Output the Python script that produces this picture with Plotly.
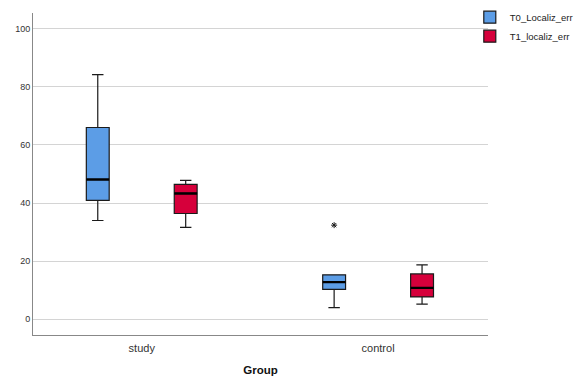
import plotly.graph_objects as go

groups = ["study", "control"]

# T0_Localiz_err box statistics per group
t0_lower = [34.0, 4.0]
t0_q1 = [40.9, 10.3]
t0_median = [48.1, 12.8]
t0_q3 = [66.0, 15.3]
t0_upper = [84.2, 15.3]

# T1_localiz_err box statistics per group
t1_lower = [31.6, 5.2]
t1_q1 = [36.4, 7.7]
t1_median = [43.3, 10.8]
t1_q3 = [46.4, 15.6]
t1_upper = [47.8, 18.7]

# extreme values (asterisks)
t0_extreme_groups = ["control"]
t0_extreme_values = [32.4]
t1_extreme_groups = ["control"]
t1_extreme_values = [None]

y_ticks = [0, 20, 40, 60, 80, 100]

line_col = "#1a1a1a"
gap = 0.256

fig = go.Figure()
fig.add_trace(go.Box(
    name="T0_Localiz_err", x=groups,
    q1=t0_q1, median=t0_median, q3=t0_q3,
    lowerfence=t0_lower, upperfence=t0_upper,
    fillcolor="#5C9DE6", line=dict(color=line_col, width=1.2),
    boxpoints=False, whiskerwidth=0.5, hoverinfo="skip",
    offsetgroup="T0",
))
fig.add_trace(go.Box(
    name="T1_localiz_err", x=groups,
    q1=t1_q1, median=t1_median, q3=t1_q3,
    lowerfence=t1_lower, upperfence=t1_upper,
    fillcolor="#D6003B", line=dict(color=line_col, width=1.2),
    boxpoints=False, whiskerwidth=0.5, hoverinfo="skip",
    offsetgroup="T1",
))
# thick median lines (zero-height boxes at the medians)
for med, grp in ((t0_median, "T0"), (t1_median, "T1")):
    fig.add_trace(go.Box(
        x=groups, q1=med, median=med, q3=med, lowerfence=med, upperfence=med,
        fillcolor="rgba(0,0,0,0)", line=dict(color="#000", width=2.4),
        boxpoints=False, whiskerwidth=0, hoverinfo="skip",
        offsetgroup=grp, showlegend=False,
    ))
fig.add_trace(go.Scatter(
    x=t0_extreme_groups, y=t0_extreme_values, mode="markers",
    marker=dict(symbol="asterisk-open", size=5, color=line_col,
                line=dict(color=line_col, width=1)),
    offsetgroup="T0", showlegend=False, hoverinfo="skip",
))
fig.add_trace(go.Scatter(
    x=t1_extreme_groups, y=t1_extreme_values, mode="markers",
    marker=dict(symbol="asterisk-open", size=5, color=line_col,
                line=dict(color=line_col, width=1)),
    offsetgroup="T1", showlegend=False, hoverinfo="skip",
))

fig.update_layout(
    width=580, height=376,
    margin=dict(l=33, r=92, t=13, b=41, autoexpand=False),
    paper_bgcolor="white", plot_bgcolor="white",
    boxmode="group", boxgap=gap, boxgroupgap=0.74,
    scattermode="group", scattergap=gap,
    font=dict(family="Arial, Liberation Sans, sans-serif", color="#222"),
    legend=dict(x=0.96, y=1.032, xanchor="left", yanchor="top",
                font=dict(size=9.5, color="#222"), bgcolor="rgba(0,0,0,0)",
                itemwidth=30, tracegroupgap=0),
    showlegend=True,
)
fig.update_xaxes(
    type="category", range=[-0.46, 1.465], automargin=False,
    showline=True, linecolor="#888", linewidth=1,
    showgrid=False, ticks="outside", ticklen=3, tickcolor="rgba(0,0,0,0)",
    tickfont=dict(size=11, color="#333"),
    title=dict(text="<b>Group</b>", font=dict(size=11.5, color="#111"), standoff=12),
)
fig.update_yaxes(
    range=[-5.4, 105.4], tickvals=y_ticks, automargin=False,
    showline=True, linecolor="#888", linewidth=1,
    showgrid=True, gridcolor="#d4d4d4", gridwidth=1,
    zeroline=False, ticks="", tickfont=dict(size=9, color="#333"),
)

fig.write_html("out.html", config={"displayModeBar": False},
               post_script="document.body.style.margin='0';")
